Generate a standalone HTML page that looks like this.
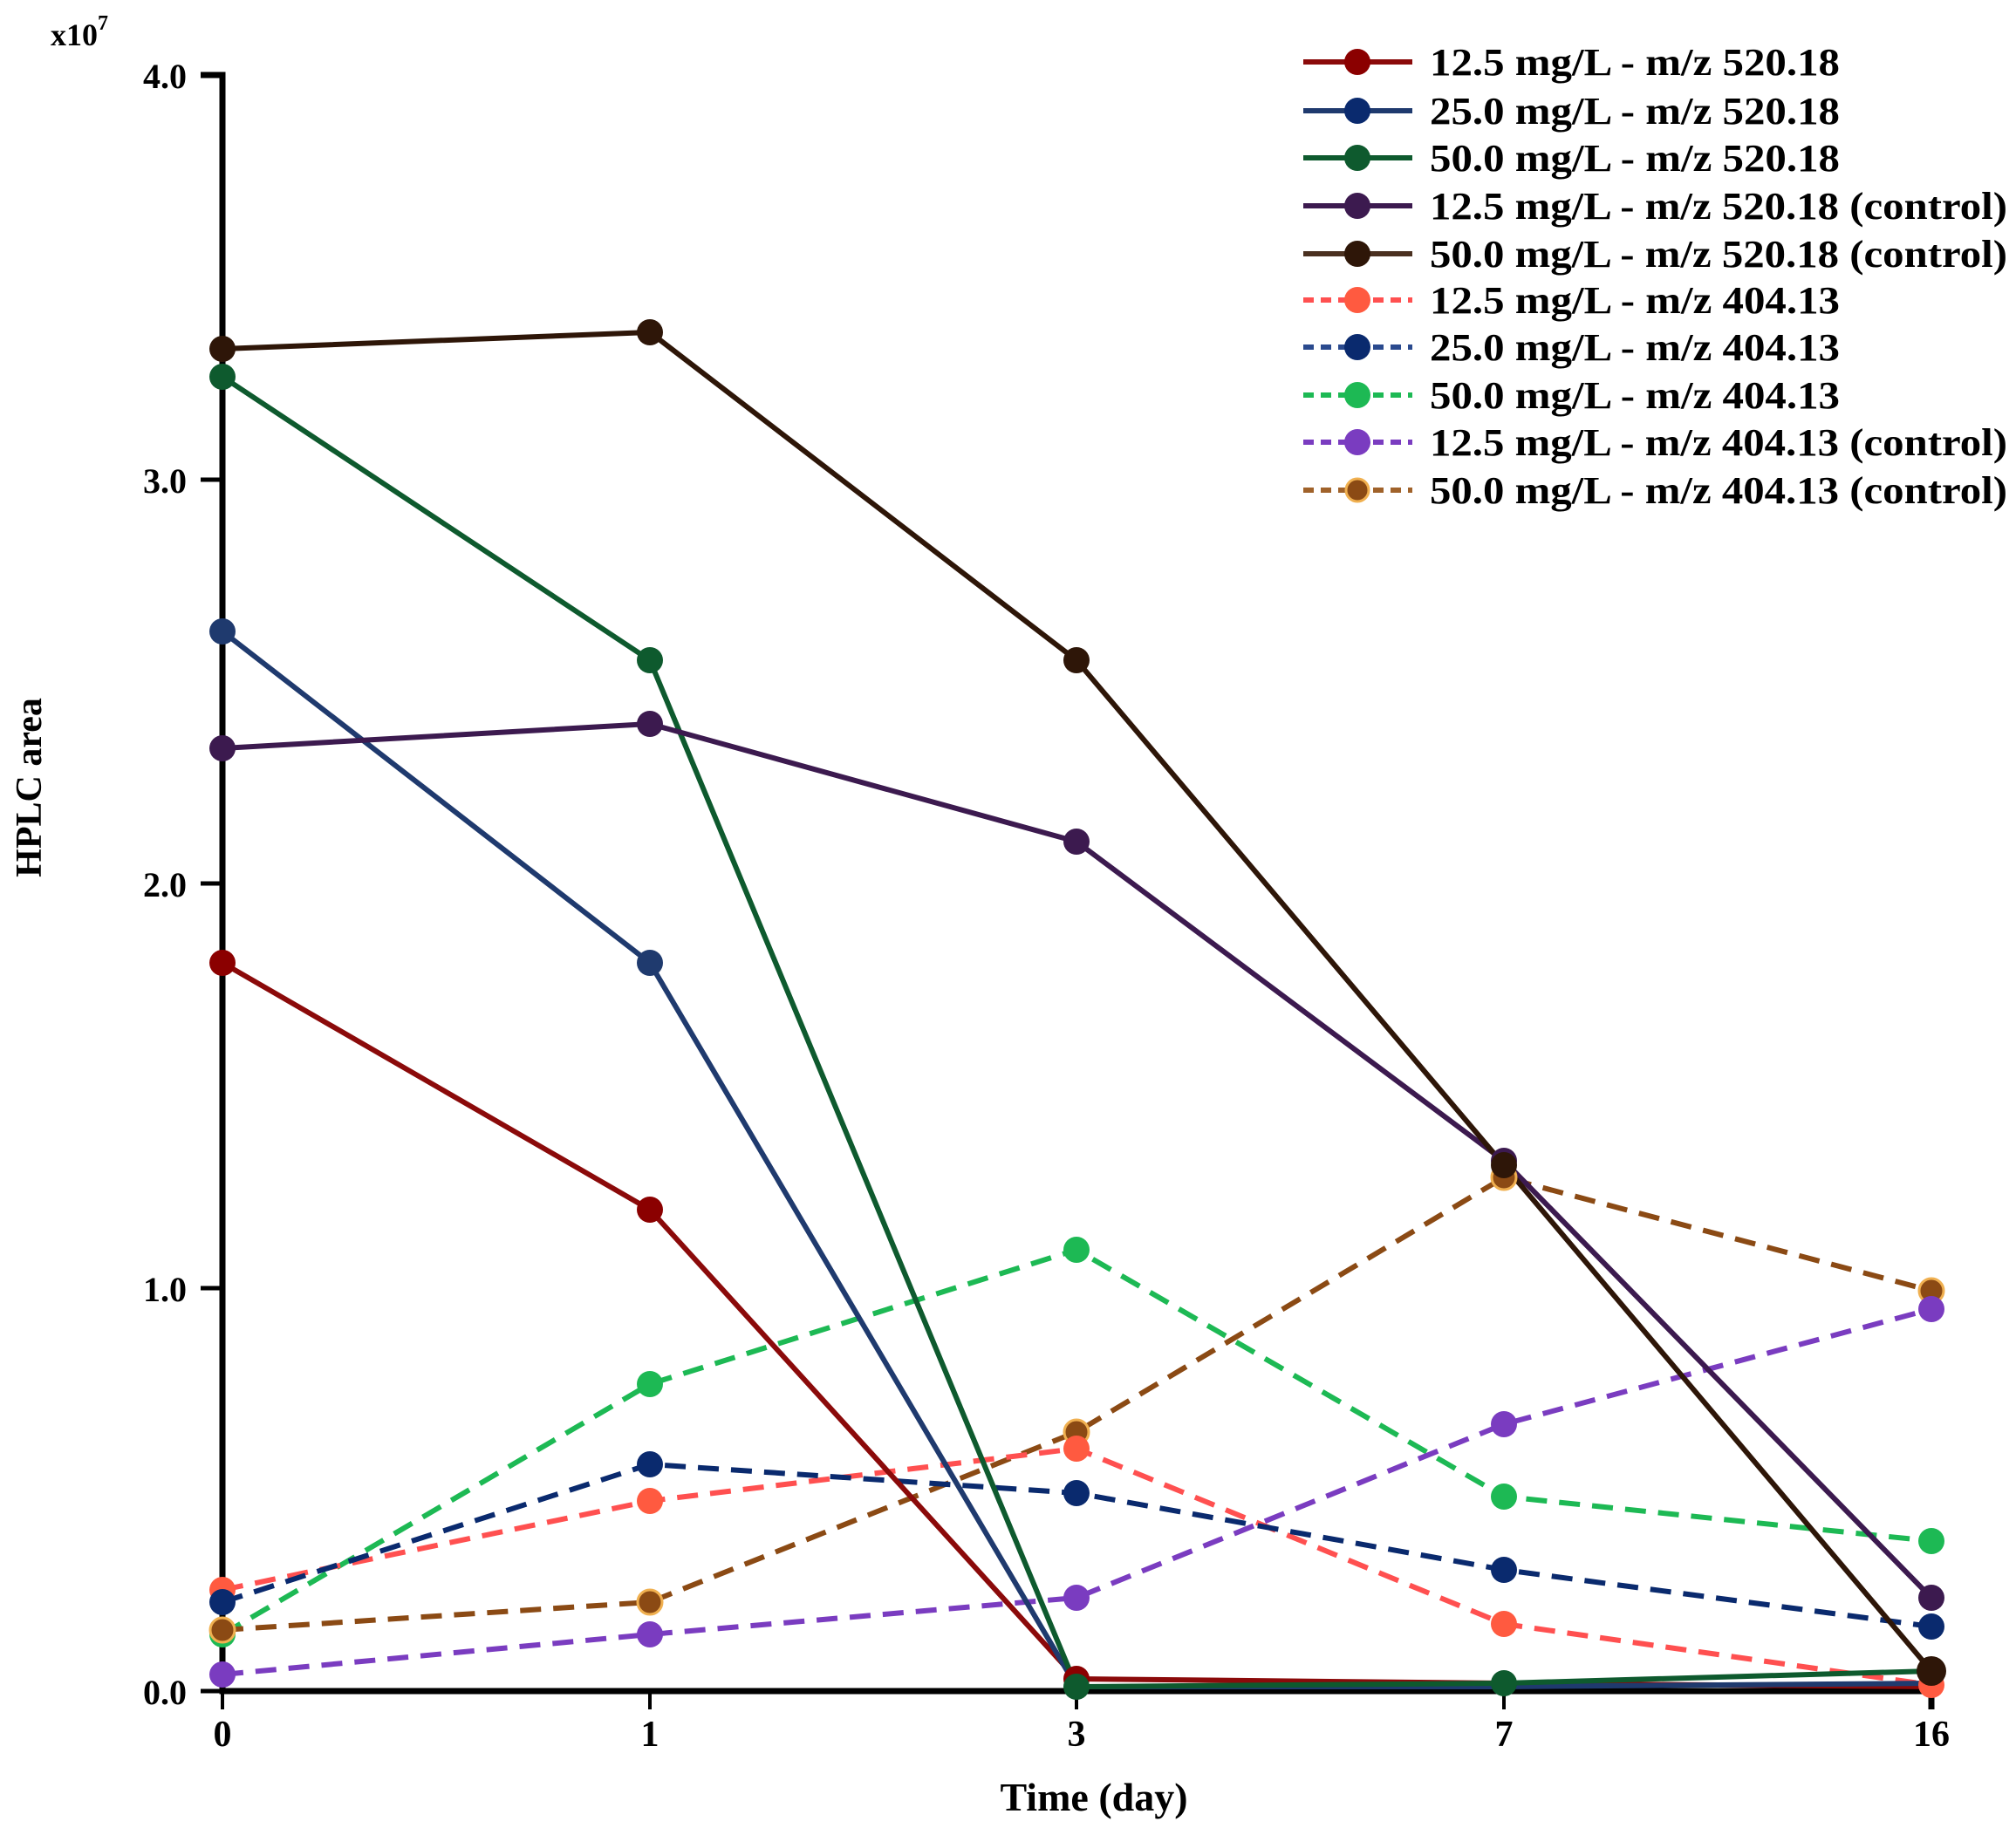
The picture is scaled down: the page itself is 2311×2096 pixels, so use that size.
<!DOCTYPE html>
<html><head><meta charset="utf-8"><style>body{margin:0;background:#fff}svg{display:block}text{font-family:"Liberation Serif",serif;font-weight:bold;fill:#000}</style></head><body>
<svg width="2311" height="2096" viewBox="0 0 2311 2096" xmlns="http://www.w3.org/2000/svg">
<g id="axes" stroke="#000" stroke-width="7" fill="none">
<polyline points="230,86 255,86 255,1939 2214,1939 2214,1960"/>
<line x1="230" y1="550" x2="255" y2="550" stroke-width="5"/>
<line x1="230" y1="1013" x2="255" y2="1013" stroke-width="5"/>
<line x1="230" y1="1477" x2="255" y2="1477" stroke-width="5"/>
<line x1="230" y1="1939" x2="255" y2="1939" stroke-width="5"/>
<line x1="255" y1="1939" x2="255" y2="1960" stroke-width="4"/>
<line x1="745" y1="1939" x2="745" y2="1960" stroke-width="4"/>
<line x1="1234" y1="1939" x2="1234" y2="1960" stroke-width="4"/>
<line x1="1724" y1="1939" x2="1724" y2="1960" stroke-width="4"/>
</g>
<g font-size="40" text-anchor="end">
<text x="214" y="101">4.0</text><text x="214" y="565">3.0</text><text x="214" y="1028">2.0</text><text x="214" y="1492">1.0</text><text x="214" y="1954">0.0</text>
</g>
<g font-size="42" text-anchor="middle">
<text x="255" y="2002">0</text><text x="745" y="2002">1</text><text x="1234" y="2002">3</text><text x="1724" y="2002">7</text><text x="2214" y="2002">16</text>
</g>
<text x="1254" y="2076" font-size="46" text-anchor="middle">Time (day)</text>
<text transform="translate(47,903) rotate(-90)" font-size="42" text-anchor="middle">HPLC area</text>
<text x="58" y="52" font-size="36">x10<tspan font-size="24" dy="-18">7</tspan></text>
<g fill="none" stroke-width="6" stroke-linejoin="round">
<polyline stroke="#1db954" stroke-dasharray="24,14" points="255,1874 745,1587 1234,1433 1724,1716 2214,1767"/>
<polyline stroke="#8b4a14" stroke-dasharray="24,14" points="255,1869 745,1837 1234,1642 1724,1350 2214,1480"/>
<polyline stroke="#7a3cc0" stroke-dasharray="24,14" points="255,1920 745,1874 1234,1832 1724,1633 2214,1501"/>
<polyline stroke="#ff5050" stroke-dasharray="24,14" points="255,1823 745,1721 1234,1661 1724,1862 2214,1932"/>
<polyline stroke="#0a2a6e" stroke-dasharray="24,14" points="255,1837 745,1679 1234,1712 1724,1800 2214,1865"/>
<polyline stroke="#8b0a0a" points="255,1104 745,1387 1234,1925 1724,1930 2214,1934"/>
<polyline stroke="#1f3a6e" points="255,724 745,1104 1234,1934 1724,1934 2214,1930"/>
<polyline stroke="#0e5a2e" points="255,432 745,757 1234,1934 1724,1930 2214,1916"/>
<polyline stroke="#3c1a4f" points="255,858 745,830 1234,965 1724,1331 2214,1832"/>
<polyline stroke="#2e1608" points="255,400 745,381 1234,757 1724,1336 2214,1916"/>
</g>
<g stroke="none">
<g fill="#1db954"><circle cx="255" cy="1874" r="15"/><circle cx="745" cy="1587" r="15"/><circle cx="1234" cy="1433" r="15"/><circle cx="1724" cy="1716" r="15"/><circle cx="2214" cy="1767" r="15"/></g>
<g fill="#8b4a14" stroke="#f0b050" stroke-width="3"><circle cx="255" cy="1869" r="14"/><circle cx="745" cy="1837" r="14"/><circle cx="1234" cy="1642" r="14"/><circle cx="1724" cy="1350" r="14"/><circle cx="2214" cy="1480" r="14"/></g>
<g fill="#7a3cc0"><circle cx="255" cy="1920" r="15"/><circle cx="745" cy="1874" r="15"/><circle cx="1234" cy="1832" r="15"/><circle cx="1724" cy="1633" r="15"/><circle cx="2214" cy="1501" r="15"/></g>
<g fill="#ff5a40"><circle cx="255" cy="1823" r="15"/><circle cx="745" cy="1721" r="15"/><circle cx="1234" cy="1661" r="15"/><circle cx="1724" cy="1862" r="15"/><circle cx="2214" cy="1932" r="15"/></g>
<g fill="#0a2a6e"><circle cx="255" cy="1837" r="15"/><circle cx="745" cy="1679" r="15"/><circle cx="1234" cy="1712" r="15"/><circle cx="1724" cy="1800" r="15"/><circle cx="2214" cy="1865" r="15"/></g>
<g fill="#8b0000"><circle cx="255" cy="1104" r="15"/><circle cx="745" cy="1387" r="15"/><circle cx="1234" cy="1925" r="15"/></g>
<g fill="#1f3a6e"><circle cx="255" cy="724" r="15"/><circle cx="745" cy="1104" r="15"/></g>
<g fill="#0e5a2e"><circle cx="255" cy="432" r="15"/><circle cx="745" cy="757" r="15"/><circle cx="1234" cy="1934" r="15"/><circle cx="1724" cy="1930" r="15"/></g>
<g fill="#3c1a4f"><circle cx="255" cy="858" r="15"/><circle cx="745" cy="830" r="15"/><circle cx="1234" cy="965" r="15"/><circle cx="1724" cy="1331" r="15"/><circle cx="2214" cy="1832" r="15"/></g>
<g fill="#2e1608"><circle cx="255" cy="400" r="15"/><circle cx="745" cy="381" r="15"/><circle cx="1234" cy="757" r="15"/><circle cx="1724" cy="1336" r="15"/><circle cx="2214" cy="1916" r="17"/></g>
</g>
<g stroke-width="6" fill="none">
<line x1="1494" y1="71" x2="1619" y2="71" stroke="#8b0a0a"/>
<line x1="1494" y1="127" x2="1619" y2="127" stroke="#1f3a6e"/>
<line x1="1494" y1="181" x2="1619" y2="181" stroke="#0e5a2e"/>
<line x1="1494" y1="236" x2="1619" y2="236" stroke="#3c1a4f"/>
<line x1="1494" y1="291" x2="1619" y2="291" stroke="#4a3020"/>
<line x1="1494" y1="344" x2="1619" y2="344" stroke="#ff5050" stroke-dasharray="12,8"/>
<line x1="1494" y1="398" x2="1619" y2="398" stroke="#2a4a8e" stroke-dasharray="12,8"/>
<line x1="1494" y1="453" x2="1619" y2="453" stroke="#1db954" stroke-dasharray="12,8"/>
<line x1="1494" y1="507" x2="1619" y2="507" stroke="#7a3cc0" stroke-dasharray="12,8"/>
<line x1="1494" y1="562" x2="1619" y2="562" stroke="#a0622a" stroke-dasharray="12,8"/>
</g>
<g>
<circle cx="1556" cy="71" r="15" fill="#8b0000"/><circle cx="1556" cy="127" r="15" fill="#0a2a6e"/><circle cx="1556" cy="181" r="15" fill="#0e5a2e"/><circle cx="1556" cy="236" r="15" fill="#3c1a4f"/><circle cx="1556" cy="291" r="15" fill="#2e1608"/>
<circle cx="1556" cy="344" r="15" fill="#ff5a40"/><circle cx="1556" cy="398" r="15" fill="#0a2a6e"/><circle cx="1556" cy="453" r="15" fill="#1db954"/><circle cx="1556" cy="507" r="15" fill="#7a3cc0"/><circle cx="1556" cy="562" r="13" fill="#8b4a14" stroke="#f0b050" stroke-width="3"/>
</g>
<g font-size="44">
<text x="1639" y="86" textLength="470" lengthAdjust="spacingAndGlyphs">12.5 mg/L - m/z 520.18</text>
<text x="1639" y="142" textLength="470" lengthAdjust="spacingAndGlyphs">25.0 mg/L - m/z 520.18</text>
<text x="1639" y="196" textLength="470" lengthAdjust="spacingAndGlyphs">50.0 mg/L - m/z 520.18</text>
<text x="1639" y="251" textLength="662" lengthAdjust="spacingAndGlyphs">12.5 mg/L - m/z 520.18 (control)</text>
<text x="1639" y="306" textLength="662" lengthAdjust="spacingAndGlyphs">50.0 mg/L - m/z 520.18 (control)</text>
<text x="1639" y="359" textLength="470" lengthAdjust="spacingAndGlyphs">12.5 mg/L - m/z 404.13</text>
<text x="1639" y="413" textLength="470" lengthAdjust="spacingAndGlyphs">25.0 mg/L - m/z 404.13</text>
<text x="1639" y="468" textLength="470" lengthAdjust="spacingAndGlyphs">50.0 mg/L - m/z 404.13</text>
<text x="1639" y="522" textLength="662" lengthAdjust="spacingAndGlyphs">12.5 mg/L - m/z 404.13 (control)</text>
<text x="1639" y="577" textLength="662" lengthAdjust="spacingAndGlyphs">50.0 mg/L - m/z 404.13 (control)</text>
</g>
</svg>
</body></html>
